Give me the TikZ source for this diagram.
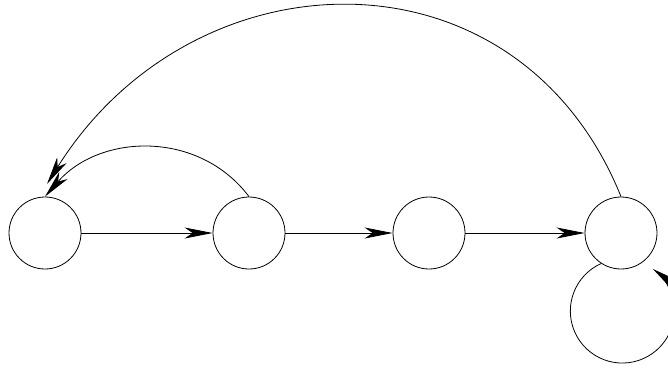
\documentclass[tikz,border=0pt]{standalone}
\usetikzlibrary{arrows.meta}
\begin{document}
\begin{tikzpicture}[x=1pt,y=1pt,
  state/.style={circle,draw,line width=0.8pt,minimum size=72pt,inner sep=0pt},
  edge/.style={line width=0.8pt,-{Stealth[length=28pt,width=11pt,inset=8pt]}}]
\useasboundingbox (0,0) rectangle (668,368);
\clip (0,0) rectangle (668,368);

% states
\node[state] (n1) at (45,135) {};
\node[state] (n2) at (249,135) {};
\node[state] (n3) at (429,135) {};
\node[state] (n4) at (621,135) {};

% end point of the long back transition, just above the first state
\coordinate (backtip) at (47,184);

% forward transitions
\draw[edge] (n1) -- (n2);
\draw[edge] (n2) -- (n3);
\draw[edge] (n3) -- (n4);

% back transitions
\draw[edge] (n2.north) to[out=127,in=49,looseness=1.05] (n1.north);
\draw[edge] (n4.north) to[out=112,in=58,looseness=1.23] (backtip);

% self loop on the last state
\draw[edge] (n4.237) arc[start angle=114,end angle=414,radius=52pt];
\end{tikzpicture}
\end{document}
